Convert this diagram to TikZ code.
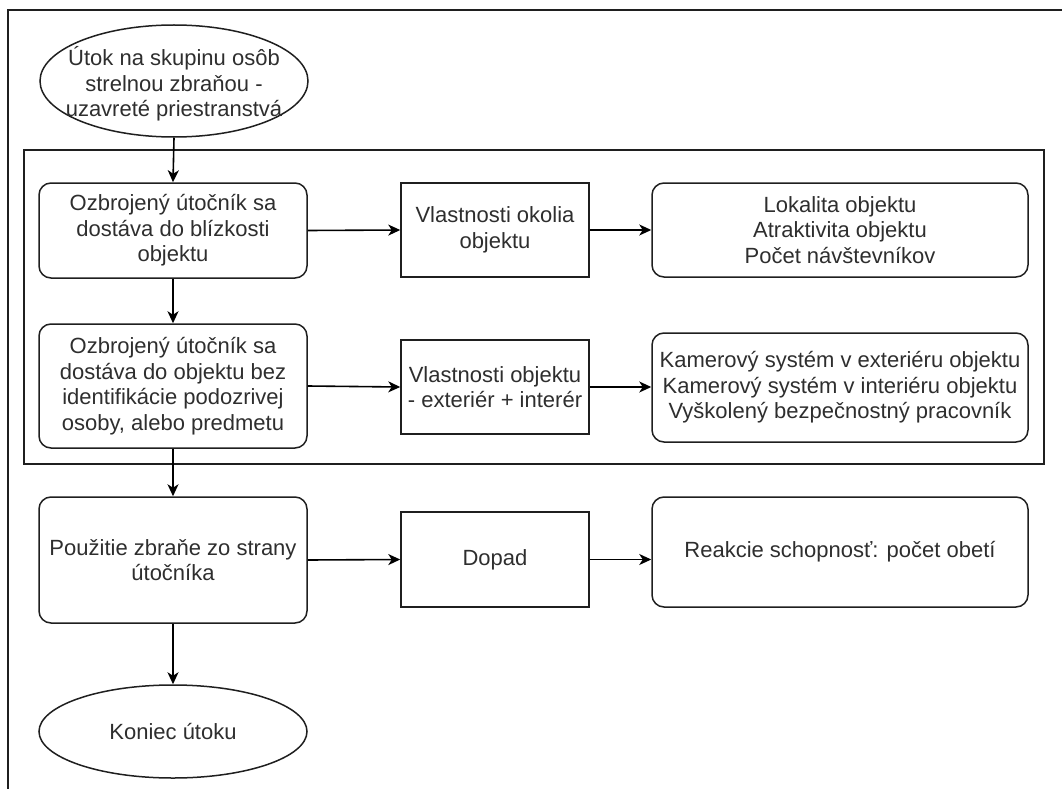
\documentclass[tikz,border=0pt]{standalone}
\usepackage{fontspec}
\setmainfont{Liberation Sans}
\usetikzlibrary{shapes.geometric,arrows.meta}
\begin{document}
\begin{tikzpicture}[x=1pt,y=-1pt,
  every node/.style={font=\fontsize{22}{25.5}\selectfont, text=black!82, align=center, inner sep=0pt},
  boxline/.style={draw=black!88, line width=1.5pt},
  roundbox/.style={boxline, rectangle, rounded corners=12pt, minimum width=#1},
  plainbox/.style={boxline, rectangle, minimum width=188pt, minimum height=94pt},
  terminal/.style={boxline, ellipse, minimum width=268pt},
  flow/.style={draw=black, line width=1.6pt, -{Stealth[length=12pt,width=11pt,inset=3.5pt]}},
  frameline/.style={draw=black!88, line width=1.5pt}
]
\useasboundingbox (0,0) rectangle (1062,789);

% page frame and the grouping rectangle
\draw[frameline] (1062,10) -- (8,10) -- (8,789);
\draw[frameline] (24,150) rectangle (1044,464);

% left column
\node[terminal, minimum height=112pt] (start) at (174,81) {};
\node (starttext) at (174,84) {Útok na skupinu osôb\\strelnou zbraňou -\\uzavreté priestranstvá};
\node[roundbox=268pt, minimum height=95pt] (approach) at (173,230.5) {Ozbrojený útočník sa\\dostáva do blízkosti\\objektu};
\node[roundbox=268pt, minimum height=124pt] (entry) at (173,386) {Ozbrojený útočník sa\\dostáva do objektu bez\\identifikácie podozrivej\\osoby, alebo predmetu};
\node[roundbox=268pt, minimum height=126pt] (use) at (173,560) {Použitie zbraňe zo strany\\útočníka};
\node[terminal, minimum height=93pt] (finish) at (173,731.5) {Koniec útoku};

% middle column
\node[plainbox] (surround) at (495,230) {Vlastnosti okolia\\objektu};
\node[plainbox] (building) at (495,387) {Vlastnosti objektu\\- exteriér + interér};
\node[plainbox, minimum height=95pt] (impact) at (495,559.5) {Dopad};

% right column
\node[roundbox=376pt, minimum height=94pt] (factors) at (840,230) {Lokalita objektu\\Atraktivita objektu\\Počet návštevníkov};
\node[roundbox=376pt, minimum height=109pt] (security) at (840,387.5) {Kamerový systém v exteriéru objektu\\Kamerový systém v interiéru objektu\\Vyškolený bezpečnostný pracovník};
\node[roundbox=376pt, minimum height=110pt] (response) at (840,552) {Reakcie schopnosť: počet obetí};

% vertical flow
\draw[flow] (start.south) -- (approach.north);
\draw[flow] (approach.south) -- (entry.north);
\draw[flow] (entry.south) -- (use.north);
\draw[flow] (use.south) -- (finish.north);

% horizontal flow
\draw[flow] (approach.east) -- (surround.west);
\draw[flow] (surround.east) -- (factors.west |- surround.east);
\draw[flow] (entry.east) -- (building.west);
\draw[flow] (building.east) -- (security.west |- building.east);
\draw[flow] (use.east) -- (impact.west);
\draw[flow] (impact.east) -- (response.west |- impact.east);
\end{tikzpicture}
\end{document}
